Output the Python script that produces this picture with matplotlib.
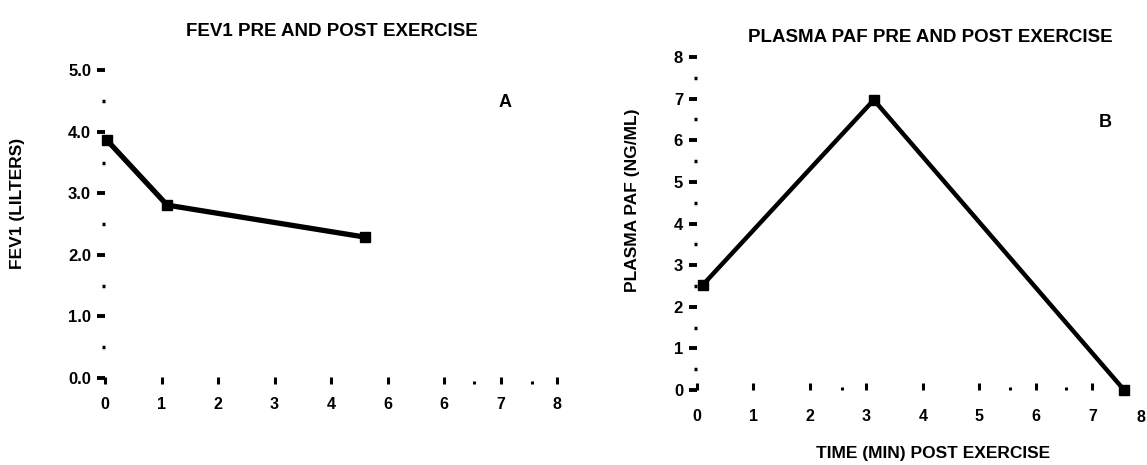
import matplotlib
matplotlib.use("Agg")
import matplotlib.pyplot as plt
from matplotlib.ticker import FixedLocator

plt.rcParams['font.family'] = ['Liberation Sans', 'DejaVu Sans']
plt.rcParams['font.weight'] = 'bold'

# panel A data
fev_time = [0.03, 1.1, 4.6]
fev_values = [3.87, 2.81, 2.29]
fev_yticks = [0, 1, 2, 3, 4, 5]
fev_ylabels = ["0.0", "1.0", "2.0", "3.0", "4.0", "5.0"]
fev_xticks = [0, 1, 2, 3, 4, 5, 6, 7, 8]
fev_xlabels = ["0", "1", "2", "3", "4", "6", "6", "7", "8"]

# panel B data
paf_time = [0.1, 3.13, 7.56]
paf_values = [2.52, 6.97, 0.0]
paf_yticks = [0, 1, 2, 3, 4, 5, 6, 7, 8]
paf_ylabels = ["0", "1", "2", "3", "4", "5", "6", "7", "8"]
paf_xticks = [0, 1, 2, 3, 4, 5, 6, 7]
paf_xlabels = ["0", "1", "2", "3", "4", "5", "6", "7"]

W, H = 1147, 465
fig = plt.figure(figsize=(W / 100, H / 100), dpi=100)


def px_axes(left, right, top, bottom):
    return fig.add_axes([left / W, 1 - bottom / H, (right - left) / W, (bottom - top) / H])


def style(ax, xline, yline):
    for s in ['top', 'right', 'left', 'bottom']:
        ax.spines[s].set_visible(False)
    ax.spines['left'].set_position(('data', xline))
    ax.spines['bottom'].set_position(('data', yline))
    ax.tick_params(axis='y', which='major', length=6, width=2.8, pad=4, labelsize=12)
    ax.tick_params(axis='y', which='minor', length=2.2, width=2.5)
    ax.tick_params(axis='x', which='major', length=5, width=2.2, direction='in', pad=9, labelsize=11.5)
    ax.tick_params(axis='x', which='minor', length=2.2, width=2.2, direction='in')


# ---- panel A ----
ax1 = px_axes(90, 590, 55, 395)
ax1.set_xlim(-0.265, 8.58)
ax1.set_ylim(-0.276, 5.25)
style(ax1, 0, -0.1)
ax1.set_yticks(fev_yticks)
ax1.set_yticklabels(fev_ylabels)
ax1.yaxis.set_minor_locator(FixedLocator([0.5, 1.5, 2.5, 3.5, 4.5]))
ax1.set_xticks(fev_xticks)
ax1.set_xticklabels(fev_xlabels)
ax1.xaxis.set_minor_locator(FixedLocator([6.53, 7.56]))
ax1.plot(fev_time, fev_values, color='black', lw=3.8, marker='s', ms=7,
         solid_joinstyle='round')
ax1.text(7.08, 4.47, "A", fontsize=13, ha='center', va='center')
fig.text(332 / W, 1 - 32 / H, "FEV1 PRE AND POST EXERCISE", fontsize=13.5,
         ha='center', va='center')
fig.text(18 / W, 1 - 203 / H, "FEV1 (LILTERS)", fontsize=12.5, rotation=90,
         ha='center', va='center')

# ---- panel B ----
ax2 = px_axes(680, 1160, 45, 405)
ax2.set_xlim(-0.30, 8.195)
ax2.set_ylim(-0.36, 8.29)
style(ax2, 0, 0.0)
ax2.set_yticks(paf_yticks)
ax2.set_yticklabels(paf_ylabels)
ax2.yaxis.set_minor_locator(FixedLocator([0.5, 1.5, 2.5, 3.5, 4.5, 5.5, 6.5, 7.5]))
ax2.set_xticks(paf_xticks)
ax2.set_xticklabels(paf_xlabels)
ax2.xaxis.set_minor_locator(FixedLocator([2.57, 5.54, 6.53]))
ax2.tick_params(axis='x', which='major', pad=14)
ax2.plot(paf_time, paf_values, color='black', lw=3.2, marker='s', ms=7)
ax2.text(7.22, 6.42, "B", fontsize=13, ha='center', va='center')
# last x label sits at the right edge of the page
fig.text(1145 / W, 1 - 417 / H, "8", fontsize=11.5, ha='right', va='center')
fig.text(930 / W, 1 - 37 / H, "PLASMA PAF PRE AND POST EXERCISE", fontsize=13.5,
         ha='center', va='center')
fig.text(633 / W, 1 - 200 / H, "PLASMA PAF (NG/ML)", fontsize=12.5, rotation=90,
         ha='center', va='center')
fig.text(933 / W, 1 - 453 / H, "TIME (MIN) POST EXERCISE", fontsize=12.5,
         ha='center', va='center')

fig.savefig("out.png", dpi=100)
